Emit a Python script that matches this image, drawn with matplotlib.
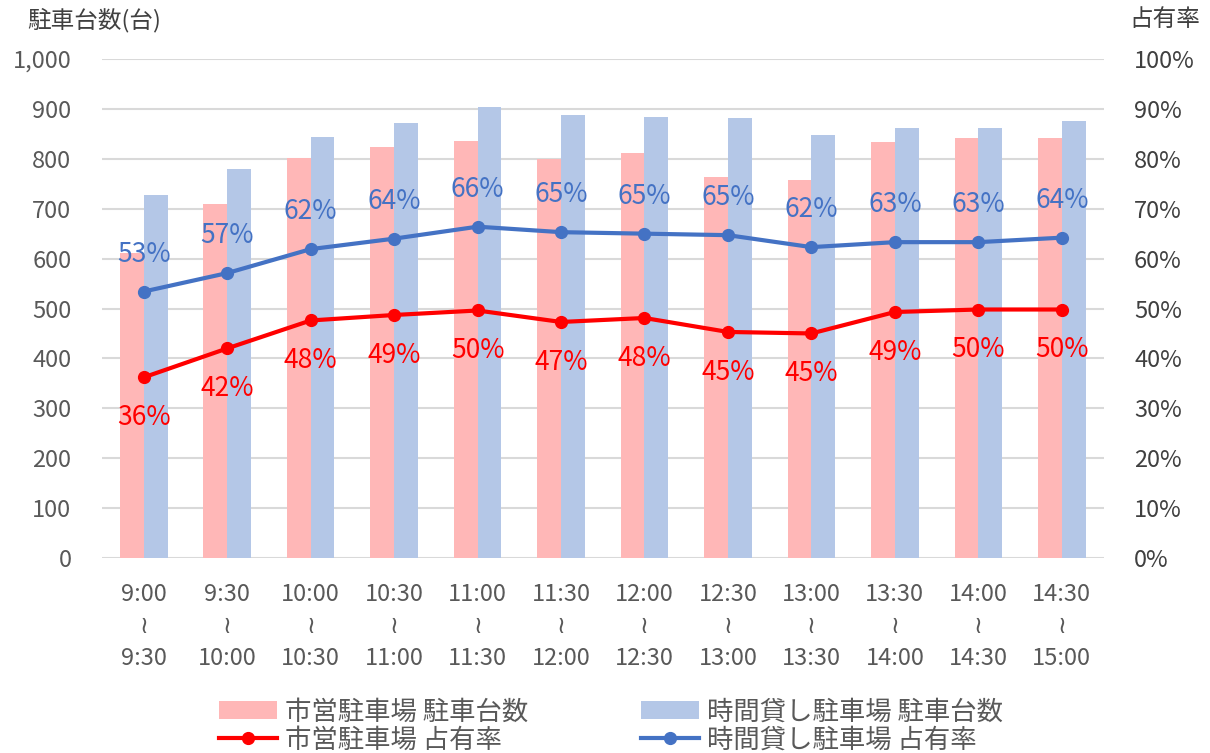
import matplotlib
matplotlib.use("Agg")
import matplotlib.pyplot as plt
import numpy as np
from matplotlib.ticker import FuncFormatter

plt.rcParams['font.family'] = ['Noto Sans CJK JP', 'DejaVu Sans']

categories = ["9:00\n≀\n9:30", "9:30\n≀\n10:00", "10:00\n≀\n10:30", "10:30\n≀\n11:00",
              "11:00\n≀\n11:30", "11:30\n≀\n12:00", "12:00\n≀\n12:30", "12:30\n≀\n13:00",
              "13:00\n≀\n13:30", "13:30\n≀\n14:00", "14:00\n≀\n14:30", "14:30\n≀\n15:00"]
city_count = [611, 709, 802, 824, 836, 799, 811, 764, 757, 833, 842, 842]
hourly_count = [727, 779, 843, 872, 904, 888, 884, 881, 848, 862, 862, 875]
city_rate = [0.362, 0.420, 0.476, 0.487, 0.496, 0.473, 0.481, 0.453, 0.450, 0.493, 0.498, 0.498]
hourly_rate = [0.534, 0.571, 0.619, 0.640, 0.664, 0.653, 0.650, 0.647, 0.623, 0.633, 0.633, 0.642]

legend_labels = ["市営駐車場 駐車台数", "時間貸し駐車場 駐車台数", "市営駐車場 占有率", "時間貸し駐車場 占有率"]

c_pink = "#FFB7B7"
c_lblue = "#B4C7E7"
c_red = "#FF0000"
c_blue = "#4472C4"
c_text = "#595959"

fig = plt.figure(figsize=(12.10, 7.53), dpi=100)
ax = fig.add_axes([0.0843, 0.259, 0.8277, 0.6626])
ax2 = ax.twinx()

x = np.arange(len(categories))
w = 0.285
b1 = ax.bar(x - w / 2, city_count, w, color=c_pink, zorder=2)
b2 = ax.bar(x + w / 2, hourly_count, w, color=c_lblue, zorder=2)

ax.set_ylim(0, 1000)
ax.set_xlim(-0.5, len(categories) - 0.5)
ax.set_yticks(np.arange(0, 1001, 100))
ax.yaxis.set_major_formatter(FuncFormatter(lambda v, p: f"{int(v):,}"))
ax.grid(axis='y', color="#D9D9D9", linewidth=1.5, zorder=0)
ax.set_axisbelow(True)
for s in ax.spines.values():
    s.set_visible(False)
for s in ax2.spines.values():
    s.set_visible(False)
ax.tick_params(axis='both', length=0, colors=c_text, labelsize=17)
ax.tick_params(axis='y', pad=22)
ax.tick_params(axis='x', pad=18)
ax.set_xticks(x)
ax.set_xticklabels(categories, linespacing=1.5)

l1, = ax2.plot(x, city_rate, color=c_red, linewidth=3, marker='o', markersize=8.5, zorder=3)
l2, = ax2.plot(x, hourly_rate, color=c_blue, linewidth=3, marker='o', markersize=8.5, zorder=3)
ax2.set_ylim(0, 1.0)
ax2.set_yticks(np.arange(0, 1.01, 0.1))
ax2.yaxis.set_major_formatter(FuncFormatter(lambda v, p: f"{int(round(v * 100))}%"))
ax2.tick_params(axis='y', length=0, colors="#404040", labelsize=17, pad=22)

for xi, v in zip(x, city_rate):
    ax2.annotate(f"{round(v * 100):.0f}%", (xi, v), xytext=(0, -29), textcoords='offset points',
                 ha='center', va='center', color=c_red, fontsize=19)
for xi, v in zip(x, hourly_rate):
    ax2.annotate(f"{round(v * 100):.0f}%", (xi, v), xytext=(0, 27), textcoords='offset points',
                 ha='center', va='center', color=c_blue, fontsize=19)

fig.text(27 / 1210, 1 - 20 / 753, "駐車台数(台)", ha='left', va='center', fontsize=17, color="#404040")
fig.text(1200 / 1210, 1 - 20 / 753, "占有率", ha='right', va='center', fontsize=17, color="#404040")

leg = fig.legend([b1, l1, b2, l2], [legend_labels[0], legend_labels[2], legend_labels[1], legend_labels[3]],
                 ncol=2, loc='center', bbox_to_anchor=(0.505, 1 - 726 / 753), frameon=False,
                 fontsize=19, handlelength=2.2, handleheight=0.7, columnspacing=4.3,
                 labelspacing=0.05, handletextpad=0.3)
for t in leg.get_texts():
    t.set_color(c_text)

fig.savefig("out.png", dpi=100)
